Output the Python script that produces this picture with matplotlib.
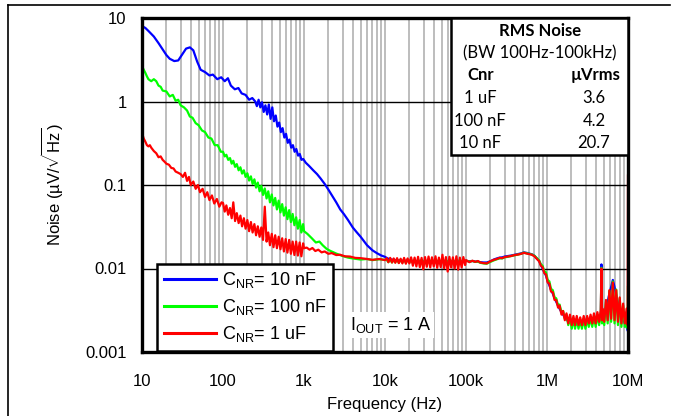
import matplotlib
matplotlib.use("Agg")
import matplotlib.pyplot as plt
from matplotlib.lines import Line2D
from matplotlib.patches import Rectangle

plt.rcParams['font.family'] = ['Liberation Sans', 'DejaVu Sans']
plt.rcParams['mathtext.fontset'] = 'custom'
plt.rcParams['mathtext.rm'] = 'Liberation Sans'
plt.rcParams['mathtext.it'] = 'Liberation Sans:italic'
plt.rcParams['mathtext.bf'] = 'Liberation Sans:bold'

# ---------------- data ----------------
# 10 nF (blue), 10 Hz .. 10 kHz
blue_lo_f = [10, 11, 12, 14, 16, 18, 20, 22, 25, 28, 31, 35, 39, 43, 48, 53, 60, 68, 75, 85,
             95, 105, 115, 125, 140, 155, 170, 190, 210, 230,
             250, 262, 275, 289, 303, 318, 334, 351, 368, 387, 406, 426, 448, 470, 494, 518, 544, 572, 600, 630,
             662, 695, 730, 766, 804, 845, 887, 931, 978,
             1050, 1150, 1300, 1450, 1600, 1800, 2000, 2250, 2500, 2800, 3100, 3500, 4000, 4500, 5000, 6000, 7000, 8000, 9000, 10000]
blue_lo_v = [8.0, 7.6, 7.0, 6.0, 5.0, 4.2, 3.6, 3.25, 3.05, 3.1, 3.6, 4.3, 4.45, 4.1, 3.0, 2.4, 2.25, 2.05, 2.1, 1.85,
             1.95, 1.75, 1.9, 1.55, 1.4, 1.45, 1.25, 1.2, 1.05, 1.1,
             1.0, 0.88, 1.05, 0.85, 0.98, 0.75, 0.9, 0.7, 0.92, 0.62, 0.85, 0.58, 0.68, 0.5, 0.56, 0.43, 0.48, 0.37, 0.41, 0.32,
             0.35, 0.28, 0.3, 0.25, 0.27, 0.225, 0.235, 0.2, 0.205,
             0.185, 0.17, 0.15, 0.135, 0.12, 0.103, 0.088, 0.073, 0.062, 0.051, 0.045, 0.038, 0.031, 0.027, 0.024, 0.019, 0.0165, 0.0152, 0.0143, 0.0138]

# 100 nF (green), 10 Hz .. 10 kHz
green_lo_f = [10, 10.5, 11, 11.5, 12, 13, 14, 15, 16, 17, 18, 20, 22, 24, 26, 28, 30, 33, 36, 39,
              42, 46, 50, 55, 60, 66, 72, 79, 86, 94,
              100, 105, 110, 116, 122, 128, 134, 141, 148, 156, 164, 172, 181, 190, 200, 210, 221, 232, 244, 256,
              269, 283, 297, 312, 328, 345, 362, 380, 400, 420, 441, 463, 487, 512, 538, 565, 594, 624, 656, 689,
              724, 761, 800, 840, 883, 928, 975,
              1000, 1100, 1250, 1400, 1550, 1700, 1900, 2100, 2500, 3000, 3500, 4000, 5000, 6000, 7000, 8500, 10000]
green_lo_v = [2.66, 2.4, 2.2, 2.0, 1.85, 1.75, 1.85, 1.75, 1.55, 1.5, 1.35, 1.32, 1.15, 1.2, 1.02, 1.05, 0.9, 0.85, 0.78, 0.66,
              0.64, 0.55, 0.52, 0.45, 0.43, 0.37, 0.36, 0.3, 0.3, 0.25,
              0.25, 0.22, 0.23, 0.20, 0.21, 0.18, 0.195, 0.165, 0.178, 0.150, 0.163, 0.137, 0.150, 0.125, 0.138, 0.113, 0.127, 0.103, 0.117, 0.093,
              0.107, 0.084, 0.098, 0.076, 0.091, 0.069, 0.084, 0.062, 0.077, 0.057, 0.070, 0.051, 0.065, 0.047, 0.059, 0.043, 0.054, 0.039, 0.050, 0.036,
              0.045, 0.033, 0.041, 0.030, 0.038, 0.027, 0.034,
              0.028, 0.026, 0.023, 0.0205, 0.021, 0.019, 0.0172, 0.0163, 0.0151, 0.0141, 0.0135, 0.0132, 0.0128, 0.013, 0.0126, 0.0129, 0.0127]

# 1 uF (red), 10 Hz .. 10 kHz
red_lo_f = [10, 10.5, 11, 11.5, 12, 12.5, 13, 14, 15, 16, 17, 18, 19, 20, 21.5, 23, 24.5, 26, 28, 30,
            32, 34, 36, 38, 40, 43, 46, 49, 52, 56, 60, 64, 68, 73, 78, 84, 90, 96,
            100, 105, 110, 116, 122, 128, 134, 141, 148, 156, 164, 172, 181, 190, 200, 210, 221, 232, 244, 256,
            269, 283, 297, 312, 328, 345, 362, 380, 400, 420, 441, 463, 487, 512, 538, 565, 594, 624, 656, 689,
            724, 761, 800, 840, 883, 928, 975,
            1000, 1080, 1170, 1270, 1380, 1500, 1650, 1800, 2000, 2200, 2500, 2800, 3200, 3700, 4300, 5000, 6000, 7000, 8500, 10000]
red_lo_v = [0.42, 0.36, 0.33, 0.3, 0.29, 0.3, 0.28, 0.255, 0.24, 0.215, 0.22, 0.2, 0.19, 0.18, 0.175, 0.16, 0.158, 0.145, 0.14, 0.135,
            0.125, 0.14, 0.112, 0.125, 0.1, 0.11, 0.09, 0.1, 0.082, 0.09, 0.072, 0.082, 0.066, 0.075, 0.06, 0.068, 0.055, 0.062,
            0.061, 0.048, 0.057, 0.044, 0.053, 0.040, 0.062, 0.037, 0.046, 0.035, 0.043, 0.032, 0.040, 0.030, 0.038, 0.028, 0.036, 0.027, 0.034, 0.025,
            0.032, 0.024, 0.031, 0.022, 0.055, 0.021, 0.027, 0.019, 0.026, 0.018, 0.025, 0.0175, 0.024, 0.017, 0.023, 0.016, 0.0225, 0.0155, 0.022, 0.015,
            0.021, 0.0145, 0.021, 0.0143, 0.0205, 0.014, 0.020,
            0.0175, 0.0178, 0.0168, 0.0176, 0.0162, 0.0168, 0.0156, 0.016, 0.015, 0.0153, 0.0145, 0.0146, 0.014, 0.0139, 0.0134, 0.0133, 0.013, 0.0127, 0.013, 0.0126]

# 10 kHz .. 100 kHz (flat noise floor)
mid_f = [10500, 11000, 11600, 12200, 12800, 13400, 14100, 14800, 15600, 16400, 17200, 18100, 19000, 20000,
         21000, 22100, 23200, 24400, 25600, 26900, 28300, 29700, 31200, 32800, 34500, 36200, 38000, 40000, 42000, 44100,
         46300, 48700, 51200, 53800, 56500, 59400, 62400, 65600, 68900, 72400, 76100, 80000, 84000, 88300, 92800, 97500]
blue_mid_v = [0.0134, 0.0131, 0.0130, 0.0127, 0.0128, 0.0125, 0.0127, 0.0124, 0.0126, 0.0123, 0.0125, 0.0122, 0.0125, 0.0122,
              0.0125, 0.0120, 0.0124, 0.0119, 0.0125, 0.0120, 0.0124, 0.0119, 0.0125, 0.0120, 0.0124, 0.0119, 0.0125, 0.0120, 0.0124, 0.0119,
              0.0125, 0.0120, 0.0124, 0.0119, 0.0125, 0.0120, 0.0124, 0.0119, 0.0125, 0.0120, 0.0124, 0.0119, 0.0125, 0.0120, 0.0124, 0.0122]
green_mid_v = [0.0127, 0.0119, 0.0128, 0.0118, 0.0127, 0.0119, 0.0128, 0.0117, 0.0127, 0.0118, 0.0128, 0.0117, 0.0127, 0.0118,
               0.0128, 0.0116, 0.0127, 0.0115, 0.0128, 0.0116, 0.0127, 0.0114, 0.0128, 0.0116, 0.0127, 0.0115, 0.0128, 0.0114, 0.0127, 0.0116,
               0.0128, 0.0115, 0.0127, 0.0114, 0.0128, 0.0116, 0.0127, 0.0113, 0.0128, 0.0115, 0.0127, 0.0114, 0.0128, 0.0116, 0.0127, 0.0121]
red_mid_v = [0.0133, 0.0119, 0.0134, 0.0118, 0.0132, 0.0117, 0.0133, 0.0116, 0.0131, 0.0115, 0.0134, 0.0114, 0.0132, 0.0115,
             0.0136, 0.0108, 0.0135, 0.0106, 0.0138, 0.0104, 0.0134, 0.0098, 0.0137, 0.0105, 0.0139, 0.0103, 0.0136, 0.0106, 0.0140, 0.0102,
             0.0135, 0.0104, 0.0146, 0.0101, 0.0137, 0.0092, 0.0138, 0.0103, 0.0136, 0.0100, 0.0140, 0.0097, 0.0135, 0.0103, 0.0137, 0.0110]

# 100 kHz .. 750 kHz (hump)
hump_f = [1.0e5, 1.1e5, 1.2e5, 1.3e5, 1.4e5, 1.5e5, 1.65e5, 1.8e5, 2.0e5, 2.2e5, 2.4e5, 2.6e5, 2.8e5, 3.0e5, 3.3e5,
          3.6e5, 4.0e5, 4.4e5, 4.8e5, 5.2e5, 5.6e5, 6.0e5, 6.5e5, 7.0e5, 7.5e5]
blue_hump_v = [0.0124, 0.0122, 0.0123, 0.0121, 0.0121, 0.0119, 0.0118, 0.0118, 0.0122, 0.0128, 0.0132, 0.0135, 0.0136, 0.0139, 0.0141,
               0.0143, 0.0146, 0.0149, 0.0152, 0.0156, 0.0154, 0.0151, 0.0148, 0.0142, 0.0132]
green_hump_v = [0.0124, 0.0121, 0.0123, 0.0120, 0.0121, 0.0117, 0.0115, 0.0114, 0.0120, 0.0125, 0.0129, 0.0132, 0.0132, 0.0136, 0.0138,
                0.0141, 0.0144, 0.0147, 0.0150, 0.0155, 0.0152, 0.0150, 0.0147, 0.0142, 0.0133]
red_hump_v = [0.0126, 0.0119, 0.0124, 0.0120, 0.0123, 0.0118, 0.0116, 0.0115, 0.0122, 0.0127, 0.0130, 0.0134, 0.0133, 0.0137, 0.0139,
              0.0141, 0.0145, 0.0147, 0.0150, 0.0154, 0.0151, 0.0149, 0.0146, 0.0140, 0.0130]

# 800 kHz .. 10 MHz (roll-off and switching noise)
hf_f = [8.0e5, 8.4e5, 8.82e5, 9.26e5, 9.72e5, 1.02e6, 1.07e6, 1.12e6, 1.18e6, 1.24e6,
        1.30e6, 1.37e6, 1.43e6, 1.51e6, 1.58e6, 1.66e6, 1.74e6, 1.83e6, 1.92e6, 2.02e6,
        2.12e6, 2.22e6, 2.33e6, 2.45e6, 2.57e6, 2.70e6, 2.84e6, 2.98e6, 3.13e6, 3.28e6,
        3.45e6, 3.62e6, 3.80e6, 3.99e6, 4.19e6, 4.40e6, 4.62e6, 4.70e6, 4.78e6, 4.85e6,
        5.09e6, 5.35e6, 5.61e6, 5.89e6, 6.19e6, 6.50e6, 6.82e6, 7.16e6, 7.52e6, 7.90e6,
        8.29e6, 8.71e6, 9.14e6, 9.60e6, 9.90e6, 1.0e7]
blue_hf_v = [0.0123, 0.0110, 0.0100, 0.0090, 0.0082, 0.0070, 0.0063, 0.0055, 0.0050, 0.0044,
             0.0040, 0.0036, 0.0033, 0.0030, 0.0028, 0.0026, 0.0025, 0.0023, 0.0023, 0.0022,
             0.0022, 0.0022, 0.0022, 0.0022, 0.0022, 0.0022, 0.0022, 0.0022, 0.0023, 0.0023,
             0.0023, 0.0024, 0.0024, 0.0025, 0.0025, 0.0026, 0.0027, 0.0112, 0.0027, 0.0028,
             0.0030, 0.0034, 0.0040, 0.0050, 0.0060, 0.0073, 0.0060, 0.0048, 0.0038, 0.0032,
             0.0028, 0.0025, 0.0022, 0.0020, 0.0018, 0.0018]
green_hf_v = [0.0125, 0.0112, 0.0108, 0.0093, 0.0090, 0.0073, 0.0070, 0.0057, 0.0055, 0.0045,
              0.0044, 0.0036, 0.0037, 0.0030, 0.0031, 0.0025, 0.0028, 0.0021, 0.0026, 0.0019,
              0.0025, 0.0019, 0.0025, 0.0019, 0.0024, 0.0019, 0.0025, 0.0019, 0.0025, 0.0020,
              0.0026, 0.0020, 0.0027, 0.0020, 0.0028, 0.0021, 0.0030, 0.0102, 0.0022, 0.0031,
              0.0021, 0.0040, 0.0022, 0.0054, 0.0023, 0.0070, 0.0022, 0.0056, 0.0021, 0.0044,
              0.0020, 0.0036, 0.0020, 0.0030, 0.0019, 0.0060]
red_hf_v = [0.0122, 0.0108, 0.0104, 0.0088, 0.0085, 0.0068, 0.0066, 0.0053, 0.0052, 0.0042,
            0.0042, 0.0034, 0.0036, 0.0028, 0.0031, 0.0024, 0.0029, 0.0022, 0.0028, 0.0021,
            0.0027, 0.0021, 0.0027, 0.0021, 0.0026, 0.0021, 0.0027, 0.0021, 0.0027, 0.0022,
            0.0028, 0.0022, 0.0029, 0.0022, 0.0030, 0.0023, 0.0032, 0.0100, 0.0024, 0.0033,
            0.0023, 0.0042, 0.0024, 0.0055, 0.0025, 0.0068, 0.0024, 0.0055, 0.0023, 0.0045,
            0.0022, 0.0038, 0.0022, 0.0033, 0.0021, 0.13]

series_labels = [r'C$_{\mathrm{NR}}$= 10 nF', r'C$_{\mathrm{NR}}$= 100 nF', r'C$_{\mathrm{NR}}$= 1 uF']
series_colors = ['#0000ff', '#00ff00', '#ff0000']

x_ticks = [10, 100, 1e3, 1e4, 1e5, 1e6, 1e7]
x_ticklabels = ['10', '100', '1k', '10k', '100k', '1M', '10M']
y_ticks = [0.001, 0.01, 0.1, 1, 10]
y_ticklabels = ['0.001', '0.01', '0.1', '1', '10']

table_title = 'RMS Noise'
table_sub = '(BW 100Hz-100kHz)'
table_head = ['Cnr', 'µVrms']
table_cnr = ['1 uF', '100 nF', '10 nF']
table_rms = ['3.6', '4.2', '20.7']

# ---------------- figure ----------------
W, H = 673, 416
fig = plt.figure(figsize=(W / 100, H / 100), dpi=100)
fx = lambda px: px / W
fy = lambda py: 1 - py / H

L, T, R, B = 142, 18, 628, 352
ax = fig.add_axes([fx(L), fy(B), fx(R - L), (B - T) / H])
ax.set_xscale('log')
ax.set_yscale('log')
ax.set_xlim(10, 1e7)
ax.set_ylim(1e-3, 10)

ax.set_axisbelow(True)
ax.xaxis.grid(True, which='both', color='#bdbdbd', lw=1.4)
ax.yaxis.grid(True, which='major', color='black', lw=1.0)
ax.yaxis.grid(False, which='minor')

xs = [blue_lo_f + mid_f + hump_f + hf_f,
      green_lo_f + mid_f + hump_f + hf_f,
      red_lo_f + mid_f + hump_f + hf_f]
ys = [blue_lo_v + blue_mid_v + blue_hump_v + blue_hf_v,
      green_lo_v + green_mid_v + green_hump_v + green_hf_v,
      red_lo_v + red_mid_v + red_hump_v + red_hf_v]
handles = []
for xv, yv, c, lab in zip(xs, ys, series_colors, series_labels):
    h, = ax.plot(xv, yv, color=c, lw=1.6, label=lab, solid_joinstyle='round')
    handles.append(h)

ax.set_xticks(x_ticks)
ax.set_xticklabels(x_ticklabels)
ax.set_yticks(y_ticks)
ax.set_yticklabels(y_ticklabels)
ax.xaxis.set_minor_formatter(matplotlib.ticker.NullFormatter())
ax.yaxis.set_minor_formatter(matplotlib.ticker.NullFormatter())
ax.tick_params(which='both', length=0, labelsize=12)
ax.tick_params(axis='x', pad=16)
ax.tick_params(axis='y', pad=11)
for s in ax.spines.values():
    s.set_linewidth(2.4)
    s.set_color('black')

leg = ax.legend(handles=handles, loc='lower left',
                bbox_to_anchor=(fx(157), fy(351)), bbox_transform=fig.transFigure,
                borderaxespad=0, fontsize=13, handlelength=2.9, handletextpad=0.3,
                labelspacing=0.38, borderpad=0.38, fancybox=False, framealpha=1,
                edgecolor='black')
leg.get_frame().set_linewidth(1.8)
for line in leg.get_lines():
    line.set_linewidth(2.2)

ax.text(fx(350), fy(325), r'I$_{\mathrm{OUT}}$ = 1 A', transform=fig.transFigure,
        fontsize=13, ha='left', va='center',
        bbox=dict(facecolor='white', edgecolor='none', pad=2))

# RMS table box
fig.add_artist(Rectangle((fx(451), fy(155)), fx(628 - 451), (155 - 18) / H,
                         transform=fig.transFigure, facecolor='white',
                         edgecolor='black', lw=1.8, zorder=5))
tf = dict(family=['Lato', 'DejaVu Sans'], fontsize=12, transform=fig.transFigure,
          va='center', zorder=6)
fig.text(fx(540), fy(31), table_title, ha='center', fontweight='bold', **tf)
fig.text(fx(540), fy(53), table_sub, ha='center', **tf)
fig.text(fx(481), fy(75), table_head[0], ha='center', fontweight='bold', **tf)
fig.text(fx(596), fy(75), table_head[1], ha='center', fontweight='bold', **tf)
for i, (c, r) in enumerate(zip(table_cnr, table_rms)):
    yy = 98 + i * 22.5
    fig.text(fx(480), fy(yy), c, ha='center', **tf)
    fig.text(fx(594), fy(yy), r, ha='center', **tf)

fig.text(fx(52), fy(185), 'Noise (µV/$\\sqrt{\\mathrm{Hz}}$)', rotation=90,
         ha='center', va='center', fontsize=12)
fig.text(fx(385), fy(404), 'Frequency (Hz)', ha='center', va='center', fontsize=12)

# outer frame
fig.add_artist(Line2D([fx(8), fx(670)], [fy(5), fy(5)], color='black', lw=1.2,
                      transform=fig.transFigure))
fig.add_artist(Line2D([fx(8), fx(8)], [fy(5), fy(416)], color='black', lw=1.2,
                      transform=fig.transFigure))

fig.savefig('out.png', dpi=100)
